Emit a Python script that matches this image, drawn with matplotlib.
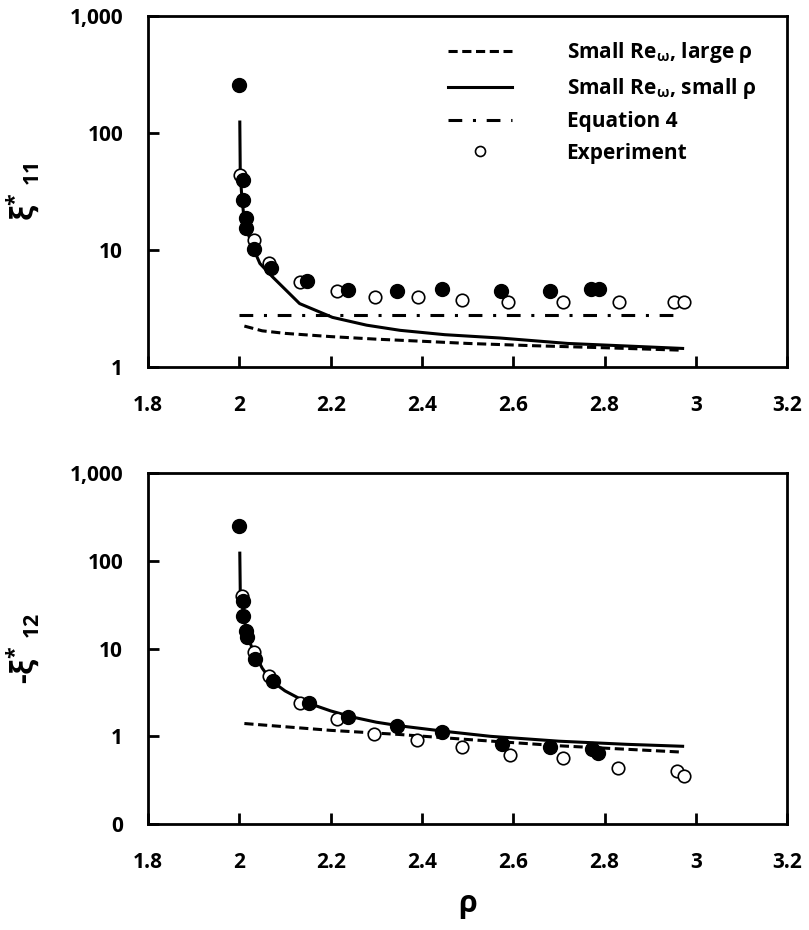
import numpy as np
import matplotlib
matplotlib.use("Agg")
import matplotlib.pyplot as plt
from matplotlib.ticker import FixedLocator, NullLocator

plt.rcParams['font.family'] = ['Open Sans', 'DejaVu Sans']
plt.rcParams['font.weight'] = 'bold'
plt.rcParams['axes.labelweight'] = 'bold'
plt.rcParams['mathtext.default'] = 'regular'

# ---- top panel: xi*_11 ----
top_open_x = [2.002, 2.033, 2.064, 2.132, 2.213, 2.297, 2.391, 2.488, 2.589, 2.710, 2.831, 2.952, 2.974]
top_open_y = [43.8, 12.2, 7.7, 5.3, 4.5, 3.95, 3.95, 3.75, 3.6, 3.6, 3.6, 3.6, 3.6]
top_fill_x = [2.0, 2.007, 2.007, 2.015, 2.015, 2.033, 2.070, 2.149, 2.237, 2.345, 2.444, 2.573, 2.681, 2.770, 2.788]
top_fill_y = [257, 39.6, 26.7, 18.8, 15.4, 10.2, 7.0, 5.5, 4.6, 4.5, 4.65, 4.5, 4.5, 4.65, 4.65]

top_small_rho_x = [2.001, 2.002, 2.005, 2.01, 2.02, 2.03, 2.045, 2.073, 2.132, 2.204, 2.279, 2.352, 2.45, 2.571, 2.719, 2.971]
top_small_rho_y = [124, 45, 30, 19, 13.5, 10.5, 7.7, 5.9, 3.5, 2.67, 2.29, 2.07, 1.9, 1.78, 1.6, 1.45]
top_large_rho_x = [2.011, 2.05, 2.1, 2.2, 2.3, 2.4, 2.5, 2.644, 2.8, 2.971]
top_large_rho_y = [2.25, 2.05, 1.95, 1.83, 1.74, 1.67, 1.6, 1.53, 1.47, 1.40]
eq4_x = [2.0, 2.971]
eq4_y = [2.8, 2.8]

# ---- bottom panel: -xi*_12 ----
bot_open_x = [2.006, 2.031, 2.064, 2.132, 2.213, 2.294, 2.389, 2.488, 2.593, 2.710, 2.829, 2.958, 2.974]
bot_open_y = [39.8, 9.1, 4.85, 2.38, 1.56, 1.05, 0.92, 0.75, 0.62, 0.56, 0.44, 0.40, 0.35]
bot_fill_x = [2.0, 2.007, 2.007, 2.015, 2.017, 2.035, 2.073, 2.152, 2.237, 2.345, 2.444, 2.576, 2.681, 2.772, 2.785]
bot_fill_y = [251, 34.9, 23.5, 15.8, 13.5, 7.6, 4.25, 2.38, 1.65, 1.3, 1.11, 0.81, 0.75, 0.72, 0.65]

bot_small_rho_x = [2.001, 2.002, 2.005, 2.01, 2.02, 2.03, 2.05, 2.07, 2.1, 2.15, 2.2, 2.25, 2.3, 2.35, 2.45, 2.55, 2.7, 2.85, 2.971]
bot_small_rho_y = [123, 45, 38, 22, 13, 9.5, 6.0, 4.3, 3.3, 2.4, 1.95, 1.65, 1.45, 1.32, 1.14, 1.0, 0.88, 0.81, 0.77]
bot_large_rho_x = [2.011, 2.2, 2.35, 2.5, 2.7, 2.971]
bot_large_rho_y = [1.40, 1.17, 1.05, 0.92, 0.78, 0.66]

xticks = [1.8, 2.0, 2.2, 2.4, 2.6, 2.8, 3.0, 3.2]
xtick_labels = ['1.8', '2', '2.2', '2.4', '2.6', '2.8', '3', '3.2']

fig = plt.figure(figsize=(8.09, 9.30), dpi=100)
ax1 = fig.add_axes([0.183, 0.605, 0.790, 0.378])
ax2 = fig.add_axes([0.183, 0.114, 0.790, 0.377])

dash = (3, 1.5)
dashdot = (4.5, 3.5, 1, 3.5)

ax1.plot(top_large_rho_x, top_large_rho_y, color='black', lw=2.2, dashes=dash, label=r'Small Re$_\omega$, large ρ')
ax1.plot(top_small_rho_x, top_small_rho_y, color='black', lw=2.2, label=r'Small Re$_\omega$, small ρ')
ax1.plot(eq4_x, eq4_y, color='black', lw=2.2, dashes=dashdot, label='Equation 4')
ax1.plot(top_open_x, top_open_y, 'o', color='black', mfc='white', mew=1.2, ms=9, label='Experiment')
ax1.plot(top_fill_x, top_fill_y, 'o', color='black', ms=10)

ax2.plot(bot_large_rho_x, bot_large_rho_y, color='black', lw=2.2, dashes=dash)
ax2.plot(bot_small_rho_x, bot_small_rho_y, color='black', lw=2.2)
ax2.plot(bot_open_x, bot_open_y, 'o', color='black', mfc='white', mew=1.2, ms=9)
ax2.plot(bot_fill_x, bot_fill_y, 'o', color='black', ms=10)

for ax in (ax1, ax2):
    ax.set_yscale('log')
    ax.set_xlim(1.8, 3.2)
    ax.set_xticks(xticks)
    ax.set_xticklabels(xtick_labels)
    ax.yaxis.set_minor_locator(NullLocator())
    ax.tick_params(direction='in', length=8, width=2, labelsize=15, pad=20)
    ax.tick_params(axis='y', pad=18)
    for s in ax.spines.values():
        s.set_linewidth(2)

ax1.set_ylim(1, 1000)
ax1.yaxis.set_major_locator(FixedLocator([1, 10, 100, 1000]))
ax1.set_yticklabels(['1', '10', '100', '1,000'])
ax2.set_ylim(0.1, 1000)
ax2.yaxis.set_major_locator(FixedLocator([0.1, 1, 10, 100, 1000]))
ax2.set_yticklabels(['0', '1', '10', '100', '1,000'])

ax1.set_ylabel(r'ξ$^{*}$$_{\ 11}$', fontsize=22, labelpad=20)
ax2.set_ylabel(r'-ξ$^{*}$$_{\ 12}$', fontsize=22, labelpad=20)
ax2.set_xlabel('ρ', fontsize=22, labelpad=12)

leg = ax1.legend(loc='upper left', bbox_to_anchor=(0.469, 0.93), frameon=False,
                 fontsize=15, handlelength=3.1, handletextpad=2.6, labelspacing=0.5,
                 borderpad=0, borderaxespad=0, markerscale=0.8)

fig.savefig('out.png', dpi=100)
